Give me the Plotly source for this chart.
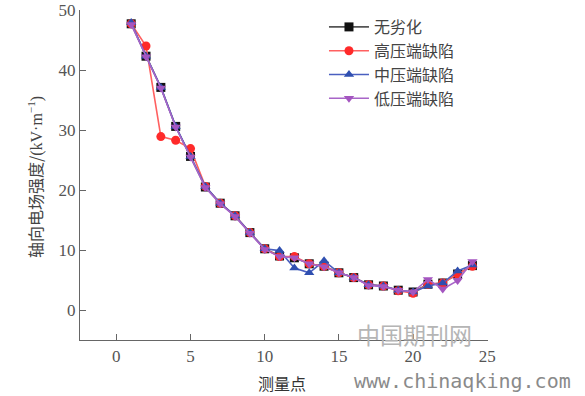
import plotly.graph_objects as go

x_points = list(range(1, 25))
no_degradation = [47.7, 42.3, 37.1, 30.6, 25.6, 20.5, 17.8, 15.7, 12.9, 10.2, 9.0, 8.7, 7.7, 7.3, 6.2, 5.4, 4.2, 4.0, 3.3, 3.0, 4.3, 4.5, 6.0, 7.4]
hv_defect = [47.7, 44.0, 28.9, 28.3, 26.9, 20.6, 17.8, 15.7, 12.9, 10.2, 8.9, 8.9, 7.7, 7.3, 6.2, 5.4, 4.2, 4.0, 3.2, 2.8, 4.3, 4.5, 6.0, 7.3]
mv_defect = [47.9, 42.3, 37.1, 30.6, 25.6, 20.6, 17.8, 15.7, 12.9, 10.2, 9.9, 7.0, 6.2, 8.2, 6.2, 5.4, 4.2, 4.0, 3.3, 3.0, 4.0, 4.5, 6.5, 7.5]
lv_defect = [47.6, 42.2, 37.0, 30.5, 25.5, 20.4, 17.7, 15.6, 12.8, 10.1, 8.9, 8.7, 7.7, 7.2, 6.2, 5.4, 4.1, 3.9, 3.3, 3.0, 5.1, 3.5, 4.9, 8.1]

series_names = ["无劣化", "高压端缺陷", "中压端缺陷", "低压端缺陷"]
x_ticks = [0, 5, 10, 15, 20, 25]
y_ticks = [0, 10, 20, 30, 40, 50]

styles = [
    dict(color="#111111", symbol="square", lc="#555555"),
    dict(color="#ff2a2a", symbol="circle", lc="#ff6060"),
    dict(color="#2f4fb0", symbol="triangle-up", lc="#4a5fc0"),
    dict(color="#a455c0", symbol="triangle-down", lc="#a865c8"),
]

fig = go.Figure()
for name, ys, st in zip(series_names, [no_degradation, hv_defect, mv_defect, lv_defect], styles):
    fig.add_trace(go.Scatter(
        x=x_points, y=ys, name=name, mode="lines+markers",
        line=dict(color=st["lc"], width=1.6),
        marker=dict(color=st["color"], symbol=st["symbol"], size=9),
    ))

axis_common = dict(
    showgrid=False, zeroline=False, showline=True, linecolor="#666666", linewidth=1.2,
    ticks="inside", ticklen=6, tickcolor="#666666", automargin=False,
    tickfont=dict(family="Liberation Serif, serif", size=17, color="#555555"),
)

fig.update_layout(
    width=585, height=396,
    margin=dict(l=80, r=97, t=10, b=56),
    paper_bgcolor="white", plot_bgcolor="white",
    xaxis=dict(range=[-2.45, 25.05], tickvals=x_ticks, **axis_common),
    yaxis=dict(range=[-5, 50], tickvals=y_ticks, **axis_common),
    showlegend=True,
    legend=dict(
        x=0.598, y=1.0, xanchor="left", yanchor="top",
        font=dict(family="Noto Sans CJK SC", size=16, color="#444444"),
        bgcolor="rgba(0,0,0,0)", tracegroupgap=0, itemwidth=40,
    ),
)

# axis titles
fig.add_annotation(text="测量点", xref="paper", yref="paper", x=0.495, y=-0.13,
                   xanchor="center", yanchor="middle", showarrow=False,
                   font=dict(family="Noto Sans CJK SC", size=16, color="#333333"))
fig.add_annotation(text="轴向电场强度/<span style='font-family:Liberation Serif'>(kV·m<sup>−1</sup>)</span>",
                   xref="paper", yref="paper", x=-0.11, y=0.494,
                   xanchor="center", yanchor="middle", showarrow=False, textangle=-90,
                   font=dict(family="Noto Sans CJK SC", size=16, color="#444444"))

# watermark
fig.add_annotation(text="中国期刊网", xref="paper", yref="paper", x=0.674, y=0.018,
                   xanchor="left", yanchor="middle", showarrow=False,
                   font=dict(family="Noto Sans CJK SC", size=23, color="#b5b5b5"))
fig.add_annotation(text="www.chinaqking.com", xref="paper", yref="paper", x=0.667, y=-0.124,
                   xanchor="left", yanchor="middle", showarrow=False,
                   font=dict(family="DejaVu Sans Mono", size=20, color="#8a8a8a"))

fig.write_html("out.html", config={"displayModeBar": False},
               post_script="document.body.style.margin='0';document.body.style.overflow='hidden';")
